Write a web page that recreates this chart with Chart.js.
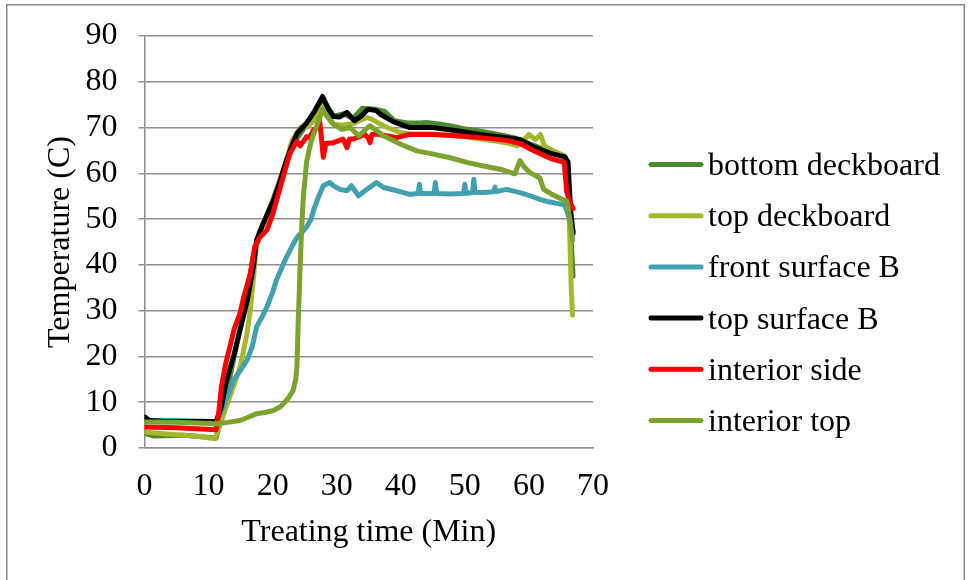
<!DOCTYPE html>
<html>
<head>
<meta charset="utf-8">
<style>
  html, body { margin: 0; padding: 0; background: #ffffff; }
  #wrap { width: 969px; height: 580px; position: relative; }
</style>
<script src="https://cdn.jsdelivr.net/npm/chart.js@4/dist/chart.umd.min.js"></script>
</head>
<body>
<div id="wrap"><canvas id="c" width="969" height="580"></canvas></div>
<script>
// Temperature logs during treatment: time (min) and temperature (C) per sensor
const seriesNames = ['bottom deckboard', 'top deckboard', 'front surface B', 'top surface B', 'interior side', 'interior top'];
const seriesColors = ['#4B8A2F', '#A6B72E', '#42A0B1', '#000000', '#FF0000', '#7BA42E'];

const bottomDeckTime = [0, 1.5, 6, 11.2, 12.5, 14, 15.5, 17, 18, 20, 22, 23.5, 25, 26.5, 27.8, 29.5, 31, 32.5, 34, 36, 37.5, 39, 41, 43, 44, 46, 48, 50, 52, 54, 56, 57.6, 59, 61, 63, 65.5, 66, 66.5, 66.9];
const bottomDeckTemp = [3.2, 2.6, 2.8, 2.2, 10, 20, 30, 42, 47, 54, 62, 67, 70, 72.5, 76.3, 72.5, 73, 72, 74.2, 74, 73.5, 71.5, 71, 71, 71.1, 70.8, 70.3, 69.7, 69.3, 68.8, 68.3, 67.8, 67, 66, 64.8, 63.8, 62.5, 48, 37.5];

const topDeckTime = [0, 2, 5, 8, 11, 11.4, 12.5, 13.9, 15, 16, 16.5, 17, 17.5, 18, 19, 20, 21, 22, 23, 24.3, 25.5, 26.5, 27.8, 29.5, 31, 32.8, 34.7, 35.5, 37.3, 39.9, 41.4, 45, 50, 55, 57, 58.2, 59, 60, 61, 61.8, 62.4, 64, 65.6, 66.1, 66.4, 66.6, 66.8];
const topDeckTemp = [3.5, 3.2, 2.9, 2.6, 2.0, 3.5, 8, 13.5, 18, 25, 30, 37, 45, 47.5, 50, 54, 58, 62, 67, 70, 70.3, 71.5, 74.4, 70.7, 70.5, 71, 72.2, 71.8, 70.4, 68.9, 68.6, 68.6, 68, 67, 66.5, 66, 67, 68.5, 67.4, 68.5, 66, 64.8, 63.8, 60, 45, 35, 29];

const frontSurfTime = [0, 5, 11.2, 12, 13, 13.9, 15, 16, 16.8, 17.5, 18.3, 19.1, 20, 20.6, 21.3, 22.2, 23, 23.8, 24.5, 25.3, 26, 26.4, 27.2, 27.9, 28.9, 29.6, 30.5, 31.6, 32.3, 33.4, 34.7, 36.2, 37.3, 39.4, 41.4, 42.7, 42.9, 43.1, 45.2, 45.4, 45.6, 47.7, 49.8, 50, 50.2, 51.2, 51.4, 51.6, 53, 54.5, 54.7, 54.9, 56.5, 58.6, 60.2, 61.7, 63, 65.6, 66.3, 66.9];
const frontSurfTemp = [6, 6, 5.8, 8, 11.5, 14.8, 17, 19.2, 22, 26.5, 28.5, 30.8, 34, 36.7, 39, 41.8, 44, 46, 47, 48.3, 50, 52, 55, 57.3, 58, 57.2, 56.5, 56.2, 57.3, 55.1, 56.5, 58, 56.9, 56.2, 55.4, 55.6, 57.6, 55.6, 55.6, 58, 55.6, 55.5, 55.6, 57.6, 55.6, 55.8, 58.7, 55.8, 55.8, 56, 57, 56, 56.5, 55.8, 55.1, 54.3, 53.8, 53.1, 50, 47.5];

const topSurfTime = [0, 0.8, 3, 11.2, 12, 12.8, 14, 14.9, 16, 17, 17.5, 18.5, 20.1, 21.2, 22.2, 23, 23.8, 25.3, 26.5, 27.8, 28.7, 29.5, 30.5, 31.6, 32.8, 33.8, 34.9, 36.2, 36.8, 38.8, 41.4, 45, 48.7, 52.4, 56.5, 58.6, 60.7, 63.3, 65.6, 66.1, 66.5, 66.9];
const topSurfTemp = [6.8, 6.0, 5.8, 5.8, 9, 14.8, 20.5, 25.7, 32, 39.6, 45.4, 49, 54, 58.5, 63, 66, 68.7, 71, 73.5, 76.8, 74, 72.4, 72.3, 73.3, 71.5, 72.5, 74, 73.7, 72.9, 71.3, 70, 70, 69.3, 68.5, 67.8, 67.4, 65.8, 64.4, 63.6, 62.5, 52, 46.9];

const interiorSideTime = [0, 5, 11.2, 11.6, 12, 12.6, 13.3, 14, 14.9, 15.5, 16.5, 17.2, 18, 19.1, 20, 21.2, 22, 22.7, 23.8, 24.3, 25.3, 25.8, 26.4, 26.9, 27.3, 27.6, 27.9, 28.3, 29.5, 31, 31.6, 32, 32.6, 34.4, 35, 35.2, 35.5, 36.2, 39.4, 41.4, 45.1, 48.7, 52.4, 56.5, 58.6, 60.7, 63.3, 65.5, 65.9, 66.3, 66.9];
const interiorSideTemp = [4.6, 4.4, 4.0, 8, 13.3, 18, 22, 26, 29.4, 33, 38, 44, 46, 47.6, 51, 57, 61, 64.4, 67, 66, 68, 67.8, 69.5, 70, 72, 68, 63.5, 66.5, 66.7, 67.5, 65.6, 67.5, 67.5, 68.5, 67.5, 66.7, 68.5, 68.6, 67.8, 68.5, 68.5, 68.2, 67.8, 67.2, 66.5, 65, 63.3, 62.4, 56, 54, 52.3];

const interiorTopTime = [0, 5, 11.2, 13, 14.9, 16, 17.5, 19, 20.1, 21.2, 21.7, 22.5, 23.2, 23.6, 23.8, 24, 24.3, 24.6, 24.8, 25.3, 26, 26.6, 27.2, 27.8, 28.7, 29.5, 30.8, 32.1, 33.4, 35.2, 37.3, 39.9, 42.5, 45.1, 47.7, 50.3, 52.9, 55.5, 57.8, 58.6, 59.2, 60.2, 61.7, 62.3, 63.5, 65.4, 65.9, 66.4, 66.8];
const interiorTopTemp = [5.7, 5.6, 5.3, 5.6, 6.0, 6.6, 7.5, 7.8, 8.2, 9, 9.7, 11, 12.6, 15, 18, 28, 40, 50, 55, 62.5, 67, 69.3, 71.5, 74, 72, 70.7, 69.6, 70, 68.2, 70.4, 68.2, 66.4, 64.9, 64.2, 63.4, 62.4, 61.6, 60.9, 59.9, 62.8, 61.5, 60.1, 59, 56.5, 55.5, 54.2, 54, 50, 45.4];

const xTicks = [0, 10, 20, 30, 40, 50, 60, 70];
const yTicks = [0, 10, 20, 30, 40, 50, 60, 70, 80, 90];

const seriesTimes = [bottomDeckTime, topDeckTime, frontSurfTime, topSurfTime, interiorSideTime, interiorTopTime];
const seriesTemps = [bottomDeckTemp, topDeckTemp, frontSurfTemp, topSurfTemp, interiorSideTemp, interiorTopTemp];

const serif = "'Liberation Serif', 'Times New Roman', serif";
const fontSize = 32;
const gridColor = '#8e8e8e';

const datasets = seriesNames.map((name, i) => ({
  label: name,
  data: seriesTimes[i].map((t, k) => ({ x: t, y: seriesTemps[i][k] })),
  borderColor: seriesColors[i],
  backgroundColor: seriesColors[i],
  borderWidth: 5,
  pointRadius: 0,
  tension: 0,
  fill: false,
  borderJoinStyle: 'round',
  borderCapStyle: 'round',
  order: seriesNames.length - i
}));

// white page with a thin grey frame
const framePlugin = {
  id: 'frame',
  beforeDraw(chart) {
    const ctx = chart.ctx;
    ctx.save();
    ctx.fillStyle = '#ffffff';
    ctx.fillRect(0, 0, chart.width, chart.height);
    ctx.strokeStyle = '#8a8a8a';
    ctx.lineWidth = 1.5;
    ctx.strokeRect(6.75, 4.75, 957.5, 600);
    ctx.restore();
  }
};

// legend column on the right: line sample followed by the series name
const sideLegend = {
  id: 'sideLegend',
  afterDraw(chart) {
    const ctx = chart.ctx;
    const x0 = 649, x1 = 703, tx = 708, y0 = 164.5, step = 51.2;
    ctx.save();
    chart.data.datasets.forEach((ds, i) => {
      const y = y0 + i * step;
      ctx.strokeStyle = ds.borderColor;
      ctx.lineWidth = 5;
      ctx.lineCap = 'round';
      ctx.beginPath();
      ctx.moveTo(x0 + 2, y);
      ctx.lineTo(x1 - 2, y);
      ctx.stroke();
      ctx.fillStyle = '#000000';
      ctx.font = fontSize + 'px ' + serif;
      ctx.textAlign = 'left';
      ctx.textBaseline = 'alphabetic';
      ctx.fillText(ds.label, tx, y + 10.5);
    });
    ctx.restore();
  }
};

new Chart(document.getElementById('c'), {
  type: 'line',
  data: { datasets },
  plugins: [framePlugin, sideLegend],
  options: {
    responsive: false,
    animation: false,
    layout: { padding: { left: 0, top: 36, right: 376, bottom: 0 } },
    plugins: {
      legend: { display: false },
      tooltip: { enabled: false }
    },
    scales: {
      x: {
        type: 'linear',
        min: 0,
        max: 70,
        afterBuildTicks(scale) { scale.ticks = xTicks.map(v => ({ value: v })); },
        afterFit(scale) { scale.height = 132; },
        grid: { display: false, drawTicks: false },
        border: { display: true, color: gridColor, width: 1.5 },
        ticks: {
          color: '#000000',
          padding: 19,
          maxRotation: 0,
          font: { family: serif, size: fontSize }
        },
        title: {
          display: true,
          text: 'Treating time (Min)',
          color: '#000000',
          font: { family: serif, size: fontSize },
          padding: { top: 0, bottom: 28 }
        }
      },
      y: {
        type: 'linear',
        min: 0,
        max: 90,
        afterBuildTicks(scale) { scale.ticks = yTicks.map(v => ({ value: v })); },
        afterFit(scale) {
          scale.width = 144.5;
          scale.paddingTop = 0;
          scale.paddingBottom = 0;
        },
        grid: { display: true, color: gridColor, lineWidth: 1.5, drawTicks: true, tickLength: 6 },
        border: { display: true, color: gridColor, width: 1.5 },
        ticks: {
          color: '#000000',
          padding: 21,
          font: { family: serif, size: fontSize }
        },
        title: {
          display: true,
          text: 'Temperature (C)',
          color: '#000000',
          font: { family: serif, size: fontSize },
          padding: { top: 41, bottom: 0 }
        }
      }
    }
  }
});
</script>
</body>
</html>
